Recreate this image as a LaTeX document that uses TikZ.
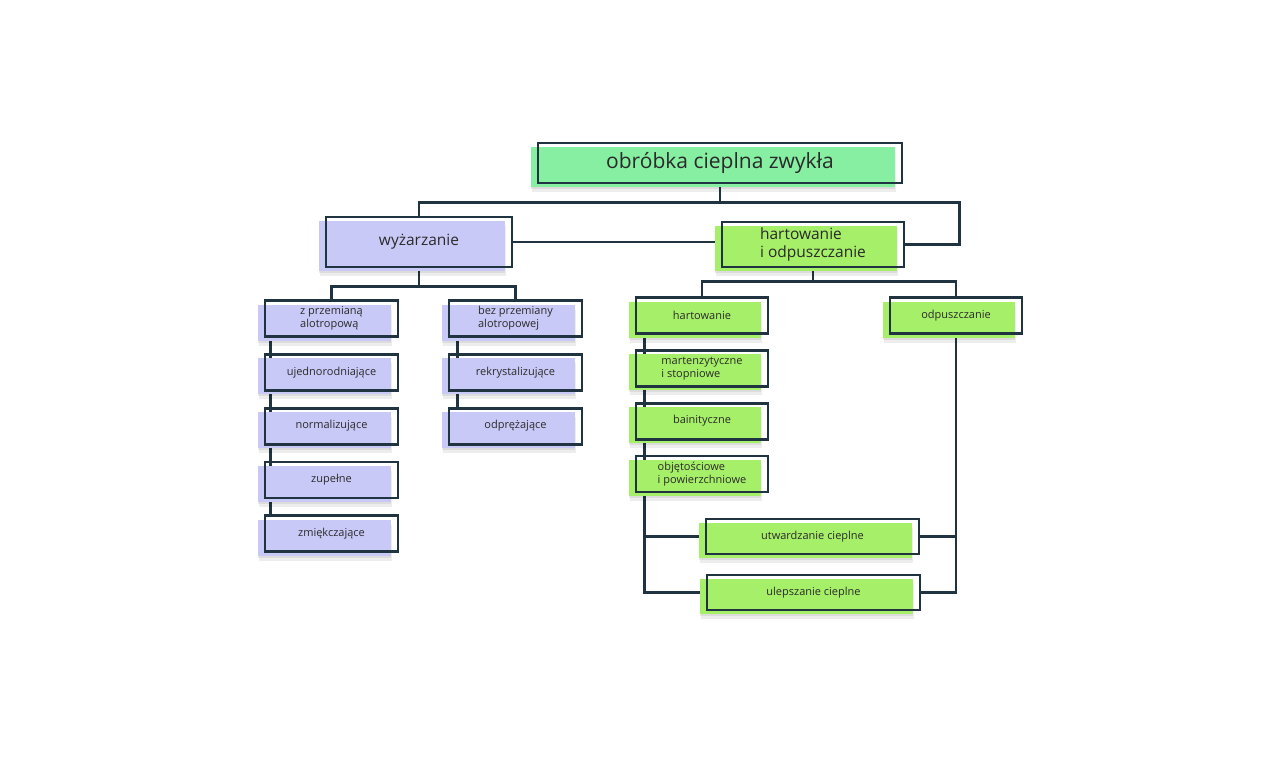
\documentclass[tikz,border=0pt]{standalone}
\usepackage{fontspec}
\setmainfont{Open Sans}
\usetikzlibrary{positioning,backgrounds}
\definecolor{outline}{HTML}{1F3341}
\definecolor{mint}{HTML}{86EFA2}
\definecolor{lavender}{HTML}{C9C9F8}
\definecolor{lime}{HTML}{A6EF68}
\definecolor{ink}{HTML}{2A2A2A}
\tikzset{
  box/.style={draw=outline, line width=2.8pt, minimum height=36pt, align=left,
    text=ink, font=\fontsize{11}{13}\selectfont,
    preaction={fill=black, opacity=0.07, transform canvas={shift={(-6pt,-9pt)}}},
    preaction={fill=black, opacity=0.07, transform canvas={shift={(-7pt,-6pt)}}},
    preaction={fill=#1, transform canvas={shift={(-7pt,-4pt)}}}},
  lavbox/.style={box=lavender, minimum width=133pt},
  limebox/.style={box=lime, minimum width=132pt},
  bigtext/.style={font=\fontsize{15.5}{18}\selectfont},
  conn/.style={draw=outline, line width=2.3pt}
}

\begin{document}
\begin{tikzpicture}[x=1pt, y=-1pt, node distance=15pt]
    \useasboundingbox (0,0) rectangle (1280,756);

    \node[box=mint, minimum width=364pt, minimum height=40pt,
      font=\fontsize{21}{24}\selectfont] (top) at (720,163) {obróbka cieplna zwykła};
    \node[box=lavender, bigtext, minimum width=186pt, minimum height=50pt] (wyz) at (419,242) {wyżarzanie};
    \node[box=lime, bigtext, minimum width=182pt, minimum height=45pt] (hio) at (813,244.5) {hartowanie\\i odpuszczanie};

    \node[lavbox] (zprz) at (331.5,318.5) {z przemianą\\alotropową};
    \node[lavbox, below=of zprz] (ujed) {ujednorodniające};
    \node[lavbox, below=of ujed] (norm) {normalizujące};
    \node[lavbox, below=of norm] (zup) {zupełne};
    \node[lavbox, below=of zup] (zmiek) {zmiękczające};

    \node[lavbox] (bprz) at (515.5,318.5) {bez przemiany\\alotropowej};
    \node[lavbox, below=of bprz] (rekr) {rekrystalizujące};
    \node[lavbox, below=of rekr] (odpr) {odprężające};

    \node[limebox] (hart) at (702,315.5) {hartowanie};
    \node[limebox, below=14pt of hart] (mart) {martenzytyczne\\i stopniowe};
    \node[limebox, below=14pt of mart] (bain) {bainityczne};
    \node[limebox, below=14pt of bain] (obj) {objętościowe\\i powierzchniowe};

    \node[limebox] (odp) at (956,315.5) {odpuszczanie};
    \node[box=lime, minimum width=213pt, minimum height=35pt] (utw) at (812.5,536.5) {utwardzanie cieplne};
    \node[box=lime, minimum width=213pt, minimum height=35pt] (ulep) at (813.5,592.5) {ulepszanie cieplne};

    \begin{scope}[on background layer]
      \draw[conn] (top.south) -- ++(0,18) coordinate (tbus) -| (wyz.north);
      \draw[conn] (tbus) -| ([xshift=54pt]hio.east) -- (hio.east);
      \draw[conn] (wyz.east) -- (wyz.east -| hio.west);
      \draw[conn] (wyz.south) -- ++(0,18) coordinate (lbus) -| (zprz.north);
      \draw[conn] (lbus) -| (bprz.north);
      \draw[conn] (hio.south) -- ++(0,13) coordinate (rbus) -| (hart.north);
      \draw[conn] (rbus) -| (odp.north);
      \draw[conn] ([xshift=7pt]zprz.south west) -- ([xshift=7pt]zmiek.north west);
      \draw[conn] ([xshift=10pt]bprz.south west) -- ([xshift=10pt]odpr.north west);
      \draw[conn] ([xshift=10pt]hart.south west) coordinate (hl) |- (ulep.west);
      \draw[conn] (utw.west) -- (utw.west -| hl);
      \draw[conn] (odp.south) |- (ulep.east);
      \draw[conn] (utw.east) -- (utw.east -| odp.south);
    \end{scope}
  \end{tikzpicture}
\end{document}
